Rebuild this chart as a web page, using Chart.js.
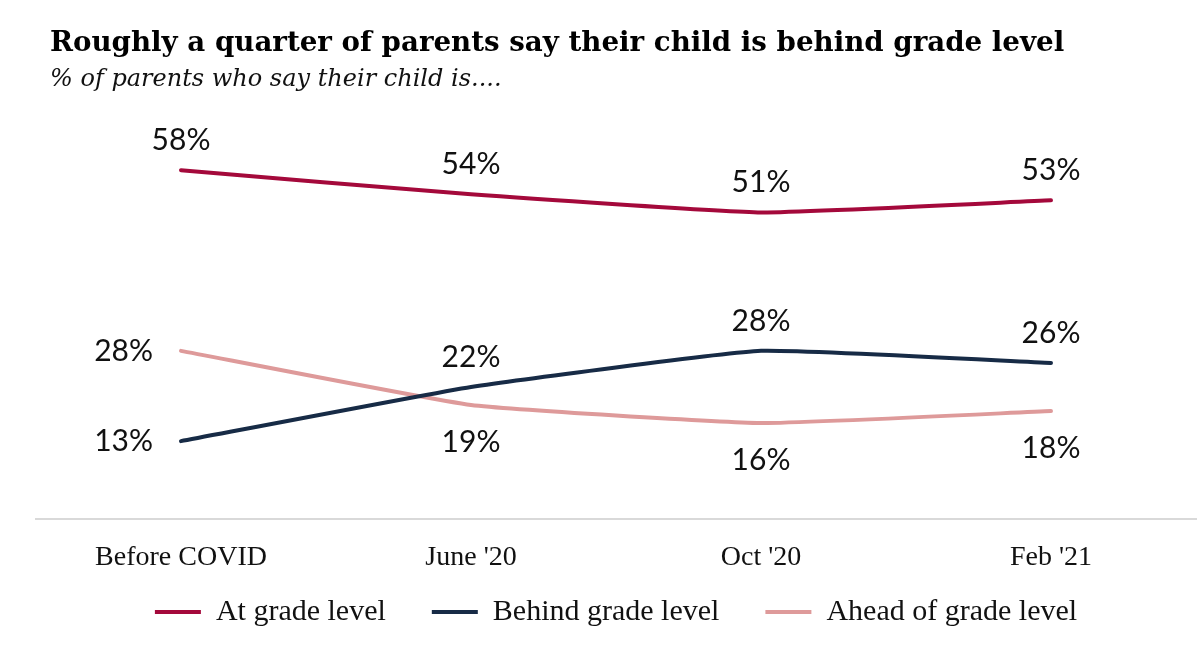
<!DOCTYPE html>
<html>
<head>
<meta charset="utf-8">
<script src="https://cdn.jsdelivr.net/npm/chart.js@4.4.1/dist/chart.umd.min.js"></script>
<style>
  html, body { margin: 0; padding: 0; background: #ffffff; }
  #wrap { width: 1200px; height: 648px; }
</style>
</head>
<body>
<div id="wrap"><canvas id="c"></canvas></div>
<script>
const categories = ["Before COVID", "June '20", "Oct '20", "Feb '21"];
const atGrade = [58, 54, 51, 53];
const behindGrade = [13, 22, 28, 26];
const aheadGrade = [28, 19, 16, 18];
const seriesNames = ["At grade level", "Behind grade level", "Ahead of grade level"];
// label placement per series/point: 'above', 'below', 'left'
const labelPlacement = [
  ["above", "above", "above", "above"],
  ["left", "above", "above", "above"],
  ["left", "below", "below", "below"]
];

const serif = "'Liberation Serif', 'DejaVu Serif', serif";
const headSerif = "'DejaVu Serif', 'Liberation Serif', serif";
const sans = "Lato, 'Liberation Sans', sans-serif";

const labelPlugin = {
  id: 'pointLabels',
  afterDatasetsDraw(chart) {
    const ctx = chart.ctx;
    ctx.save();
    ctx.font = "30px " + sans;
    ctx.fillStyle = "#111111";
    ctx.textBaseline = "middle";
    chart.data.datasets.forEach((ds, di) => {
      const meta = chart.getDatasetMeta(di);
      meta.data.forEach((pt, i) => {
        const txt = ds.data[i] + "%";
        const place = labelPlacement[di][i];
        let x = pt.x, y = pt.y;
        if (place === "above") { ctx.textAlign = "center"; y -= 30; }
        else if (place === "below") { ctx.textAlign = "center"; y += 37; }
        else { ctx.textAlign = "right"; x -= 28; y += 0; }
        ctx.fillText(txt, x, y);
      });
    });
    ctx.restore();
  }
};

const adjustBoxes = {
  id: 'adjustBoxes',
  afterLayout(chart) {
    chart.boxes.forEach(b => {
      if (b.options && b.options.text && b.top < 120 && typeof b.left === 'number') {
        b.left += 14;
        b.right += 14;
      }
    });
    const lg = chart.legend;
    if (lg) {
      lg.top -= 44;
      lg.bottom -= 44;
    }
  }
};

new Chart(document.getElementById('c'), {
  type: 'line',
  data: {
    labels: categories,
    datasets: [
      { label: seriesNames[0], data: atGrade, borderColor: '#A4093B', backgroundColor: '#A4093B' },
      { label: seriesNames[1], data: behindGrade, borderColor: '#172B46', backgroundColor: '#172B46' },
      { label: seriesNames[2], data: aheadGrade, borderColor: '#DE9A9A', backgroundColor: '#DE9A9A' }
    ]
  },
  options: {
    responsive: true,
    maintainAspectRatio: false,
    animation: false,
    devicePixelRatio: 1,
    datasets: {
      line: {
        borderWidth: 4,
        tension: 0.12,
        pointRadius: 0,
        pointHoverRadius: 0,
        borderCapStyle: 'round',
        borderJoinStyle: 'round',
        fill: false
      }
    },
    layout: { padding: { left: 36, right: 4, top: 0, bottom: -33 } },
    scales: {
      x: {
        offset: true,
        grid: { display: false, drawTicks: false },
        border: { display: true, color: '#d9d9d9', width: 2 },
        ticks: { color: '#111111', font: { family: serif, size: 28 }, padding: 21 }
      },
      y: {
        display: false,
        min: 0,
        max: 70
      }
    },
    plugins: {
      title: {
        display: true,
        align: 'start',
        text: 'Roughly a quarter of parents say their child is behind grade level',
        color: '#000000',
        font: { family: headSerif, size: 27.7, weight: 'bold', lineHeight: 1.2 },
        padding: { top: 27, bottom: 0 }
      },
      subtitle: {
        display: true,
        align: 'start',
        text: '% of parents who say their child is....',
        color: '#111111',
        font: { family: headSerif, size: 24, style: 'italic', lineHeight: 1.2 },
        padding: { top: 5, bottom: 4 }
      },
      legend: {
        position: 'bottom',
        labels: {
          usePointStyle: true,
          pointStyle: 'line',
          pointStyleWidth: 46,
          color: '#111111',
          font: { family: serif, size: 30 },
          padding: 46
        }
      },
      tooltip: { enabled: false }
    }
  },
  plugins: [labelPlugin, adjustBoxes]
});
</script>
</body>
</html>
